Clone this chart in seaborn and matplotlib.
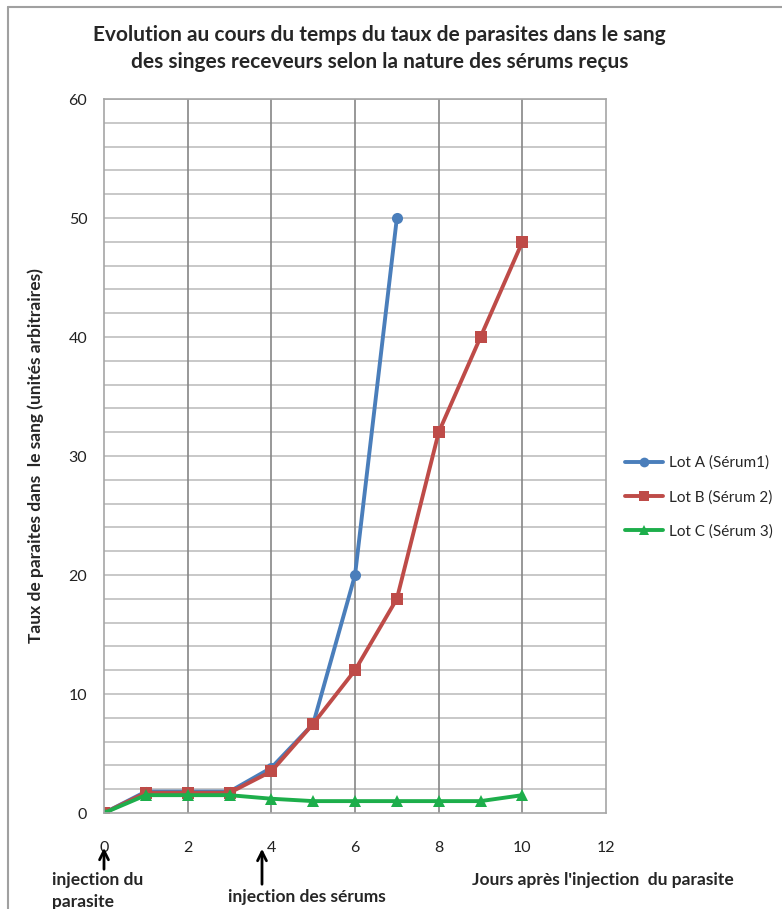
import matplotlib
matplotlib.use("Agg")
import matplotlib.pyplot as plt
from matplotlib.lines import Line2D
import seaborn as sns
import pandas as pd

# Jours après l'injection du parasite
days_a = [0, 1, 2, 3, 4, 5, 6, 7]
lot_a = [0, 1.8, 1.8, 1.8, 3.8, 7.5, 20, 50]
days_bc = [0, 1, 2, 3, 4, 5, 6, 7, 8, 9, 10]
lot_b = [0, 1.7, 1.7, 1.7, 3.5, 7.5, 12, 18, 32, 40, 48]
lot_c = [0, 1.5, 1.5, 1.5, 1.2, 1.0, 1.0, 1.0, 1.0, 1.0, 1.5]
series_names = ["Lot A (Sérum1)", "Lot B (Sérum 2)", "Lot C (Sérum 3)"]
x_ticks = [0, 2, 4, 6, 8, 10, 12]
y_ticks = [0, 10, 20, 30, 40, 50, 60]

df = pd.concat([
    pd.DataFrame({"jour": days_a, "taux": lot_a, "lot": series_names[0]}),
    pd.DataFrame({"jour": days_bc, "taux": lot_b, "lot": series_names[1]}),
    pd.DataFrame({"jour": days_bc, "taux": lot_c, "lot": series_names[2]}),
])

sns.set_theme(style="white")
plt.rcParams["font.family"] = ["Lato", "DejaVu Sans"]

fig = plt.figure(figsize=(7.82, 9.09), dpi=100)
ax = fig.add_axes([0.133, 0.1056, 0.642, 0.7854])

colors = ["#4A7EBB", "#BE4B48", "#1DAE4B"]
markers = ["o", "s", "^"]
palette = dict(zip(series_names, colors))
mk = dict(zip(series_names, markers))

sns.lineplot(data=df, x="jour", y="taux", hue="lot", style="lot",
             palette=palette, markers=mk, dashes=False, linewidth=2.8,
             markersize=8, markeredgewidth=0, sort=False, ax=ax, legend=False)

ax.set_xlim(0, 12)
ax.set_ylim(0, 60)
ax.set_xticks(x_ticks)
ax.set_yticks(y_ticks)
ax.set_xticklabels([str(t) for t in x_ticks], fontsize=11.5, color="#222222")
ax.set_yticklabels([str(t) for t in y_ticks], fontsize=11.5, color="#222222")
ax.tick_params(axis="x", length=0, pad=20)
ax.tick_params(axis="y", length=0, pad=12)

# grid: light horizontals every 2 units, darker verticals every 2 days
for y in range(2, 61, 2):
    ax.axhline(y, color="#BFBFBF", lw=1.2, zorder=0)
for x in range(2, 12, 2):
    ax.axvline(x, color="#868686", lw=1.2, zorder=0)
for s in ax.spines.values():
    s.set_color("#A6A6A6")
    s.set_linewidth(1.2)

ax.set_xlabel("")
ax.set_ylabel("Taux de paraites dans  le sang (unités arbitraires)",
              fontsize=12.5, fontweight="bold", labelpad=18)

fig.text(0.485, 0.962, "Evolution au cours du temps du taux de parasites dans le sang",
         ha="center", va="center", fontsize=15, fontweight="bold")
fig.text(0.485, 0.932, "des singes receveurs selon la nature des sérums reçus",
         ha="center", va="center", fontsize=15, fontweight="bold")

handles = [Line2D([0], [0], color=c, marker=m, lw=2.8, markersize=7, markeredgewidth=0)
           for c, m in zip(colors, markers)]
fig.legend(handles, series_names, loc="center left", bbox_to_anchor=(0.795, 0.453),
           frameon=False, fontsize=11, handlelength=2.5, labelspacing=1.3,
           handletextpad=0.4, borderaxespad=0.0, borderpad=0.2)

# annotations under the axis
ax.annotate("", xy=(104 / 782, 1 - 845 / 909), xytext=(104 / 782, 1 - 872 / 909),
            xycoords="figure fraction", textcoords="figure fraction",
            arrowprops=dict(arrowstyle="->", color="black", lw=2.0, mutation_scale=16))
ax.annotate("", xy=(262 / 782, 1 - 846 / 909), xytext=(262 / 782, 1 - 887 / 909),
            xycoords="figure fraction", textcoords="figure fraction",
            arrowprops=dict(arrowstyle="->", color="black", lw=2.0, mutation_scale=16))
fig.text(52 / 782, 1 - 880 / 909, "injection du", fontsize=12.5, fontweight="bold",
         va="center", ha="left")
fig.text(52 / 782, 1 - 902 / 909, "parasite", fontsize=12.5, fontweight="bold",
         va="center", ha="left")
fig.text(228 / 782, 1 - 897 / 909, "injection des sérums", fontsize=12.5, fontweight="bold",
         va="center", ha="left")
fig.text(472 / 782, 1 - 880 / 909, "Jours après l'injection  du parasite", fontsize=12.5,
         fontweight="bold", va="center", ha="left")

# chart frame lines
fig.add_artist(Line2D([8 / 782, 1], [1 - 7 / 909, 1 - 7 / 909], color="#A0A0A0", lw=1.5,
                      transform=fig.transFigure))
fig.add_artist(Line2D([8 / 782, 8 / 782], [0, 1 - 7 / 909], color="#A0A0A0", lw=1.5,
                      transform=fig.transFigure))

fig.savefig("out.png", dpi=100)
